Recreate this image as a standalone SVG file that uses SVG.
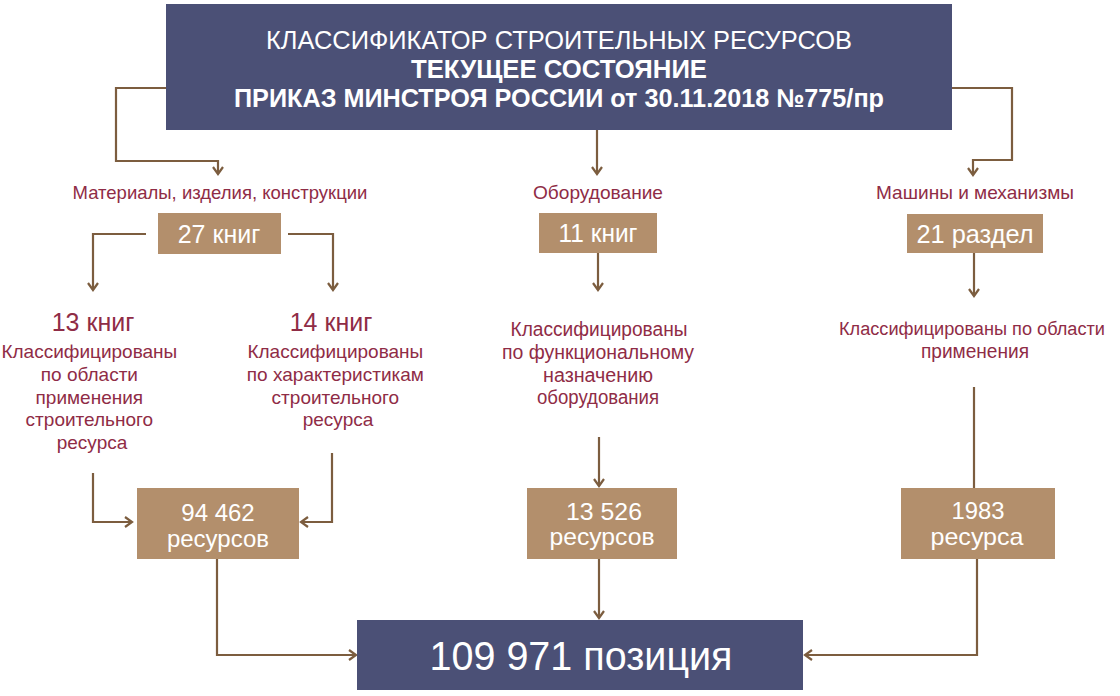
<svg xmlns="http://www.w3.org/2000/svg" width="1120" height="696" viewBox="0 0 1120 696">
<style>
.navy{fill:#4b5076}
.tan{fill:#b38f6c}
.w{fill:#ffffff;text-anchor:middle}
.r{fill:#8f2c46;text-anchor:middle}
.reg{font-family:"Liberation Sans",Arial,sans-serif}
.nar{font-family:"Liberation Sans Narrow","Liberation Sans",Arial,sans-serif}
.b{font-weight:bold}
.c{fill:none;stroke:#7c5d3f;stroke-width:2.2}
</style>
<defs>
<marker id="ah" markerUnits="userSpaceOnUse" markerWidth="14" markerHeight="14" refX="8" refY="7" orient="auto">
<path d="M1,2 L8,7 L1,12" fill="none" stroke="#7c5d3f" stroke-width="2.2"/>
</marker>
</defs>
<rect width="1120" height="696" fill="#ffffff"/>
<g id="connectors" class="c">
<path d="M166,88 H116 V161 H218 V174" marker-end="url(#ah)"/>
<path d="M597,130 V174" marker-end="url(#ah)"/>
<path d="M952,88 H1012 V160 H973 V175" marker-end="url(#ah)"/>
<path d="M146,234 H93 V290" marker-end="url(#ah)"/>
<path d="M288,234 H333 V290" marker-end="url(#ah)"/>
<path d="M598,253 V290" marker-end="url(#ah)"/>
<path d="M974,253 V296" marker-end="url(#ah)"/>
<path d="M93,473 V522 H132" marker-end="url(#ah)"/>
<path d="M332,453 V522 H301" marker-end="url(#ah)"/>
<path d="M599,437 V486" marker-end="url(#ah)"/>
<path d="M974,387 V488"/>
<path d="M217,559 V655 H356" marker-end="url(#ah)"/>
<path d="M599,559 V618" marker-end="url(#ah)"/>
<path d="M977,559 V655 H805" marker-end="url(#ah)"/>
</g>
<g id="header">
<rect class="navy" x="166" y="4" width="786" height="126"/>
<text class="w nar" x="559" y="49" font-size="26" textLength="586" lengthAdjust="spacingAndGlyphs">КЛАССИФИКАТОР СТРОИТЕЛЬНЫХ РЕСУРСОВ</text>
<text class="w nar b" x="559" y="78" font-size="26" textLength="296" lengthAdjust="spacingAndGlyphs">ТЕКУЩЕЕ СОСТОЯНИЕ</text>
<text class="w nar b" x="559" y="107" font-size="26" textLength="650" lengthAdjust="spacingAndGlyphs">ПРИКАЗ МИНСТРОЯ РОССИИ от 30.11.2018 №775/пр</text>
</g>
<g id="materials">
<text class="r reg" x="220" y="199" font-size="18.5">Материалы, изделия, конструкции</text>
</g>
<g id="books27">
<rect class="tan" x="158" y="213" width="123" height="41"/>
<text class="w reg" x="219" y="243" font-size="25">27 книг</text>
</g>
<g id="equipment">
<text class="r nar" x="598" y="199" font-size="19" textLength="130" lengthAdjust="spacingAndGlyphs">Оборудование</text>
</g>
<g id="books11">
<rect class="tan" x="539" y="213" width="118" height="40"/>
<text class="w nar" x="598" y="242" font-size="25" textLength="79" lengthAdjust="spacingAndGlyphs">11 книг</text>
</g>
<g id="machines">
<text class="r nar" x="975" y="199" font-size="19" textLength="198" lengthAdjust="spacingAndGlyphs">Машины и механизмы</text>
</g>
<g id="sections21">
<rect class="tan" x="907" y="214" width="136" height="39"/>
<text class="w nar" x="975" y="243" font-size="25" textLength="117" lengthAdjust="spacingAndGlyphs">21 раздел</text>
</g>
<g id="books13">
<text class="r reg" x="93" y="331" font-size="25">13 книг</text>
<text class="r reg" font-size="19">
<tspan x="92" y="358">Классифицированы</tspan>
<tspan x="92" y="381">по области</tspan>
<tspan x="92" y="404">применения</tspan>
<tspan x="92" y="426">строительного</tspan>
<tspan x="92" y="449">ресурса</tspan>
</text>
</g>
<g id="books14">
<text class="r reg" x="331" y="331" font-size="25">14 книг</text>
<text class="r reg" font-size="19">
<tspan x="338" y="358">Классифицированы</tspan>
<tspan x="338" y="381">по характеристикам</tspan>
<tspan x="338" y="404">строительного</tspan>
<tspan x="338" y="426">ресурса</tspan>
</text>
</g>
<g id="equipment-class">
<text class="r nar" x="599" y="336" font-size="20" textLength="177" lengthAdjust="spacingAndGlyphs">Классифицированы</text>
<text class="r nar" x="598" y="359" font-size="20" textLength="192" lengthAdjust="spacingAndGlyphs">по функциональному</text>
<text class="r nar" x="598" y="382" font-size="20" textLength="110" lengthAdjust="spacingAndGlyphs">назначению</text>
<text class="r nar" x="598" y="404" font-size="20" textLength="122" lengthAdjust="spacingAndGlyphs">оборудования</text>
</g>
<g id="machines-class">
<text class="r nar" x="972" y="335" font-size="18" textLength="266" lengthAdjust="spacingAndGlyphs">Классифицированы по области</text>
<text class="r nar" x="975" y="358" font-size="20" textLength="108" lengthAdjust="spacingAndGlyphs">применения</text>
</g>
<g id="res94462">
<rect class="tan" x="137" y="488" width="162" height="71"/>
<text class="w reg" x="218" y="521" font-size="24">94 462</text>
<text class="w reg" x="218" y="547" font-size="24">ресурсов</text>
</g>
<g id="res13526">
<rect class="tan" x="527" y="488" width="150" height="71"/>
<text class="w nar" x="604" y="520" font-size="24" textLength="76" lengthAdjust="spacingAndGlyphs">13 526</text>
<text class="w nar" x="602" y="545" font-size="24" textLength="105" lengthAdjust="spacingAndGlyphs">ресурсов</text>
</g>
<g id="res1983">
<rect class="tan" x="901" y="488" width="154" height="71"/>
<text class="w nar" x="978" y="519" font-size="24" textLength="53" lengthAdjust="spacingAndGlyphs">1983</text>
<text class="w nar" x="977" y="545" font-size="24" textLength="93" lengthAdjust="spacingAndGlyphs">ресурса</text>
</g>
<g id="total">
<rect class="navy" x="357" y="620" width="446" height="70"/>
<text class="w nar" x="581" y="670" font-size="40" textLength="303" lengthAdjust="spacingAndGlyphs">109 971 позиция</text>
</g>
</svg>
